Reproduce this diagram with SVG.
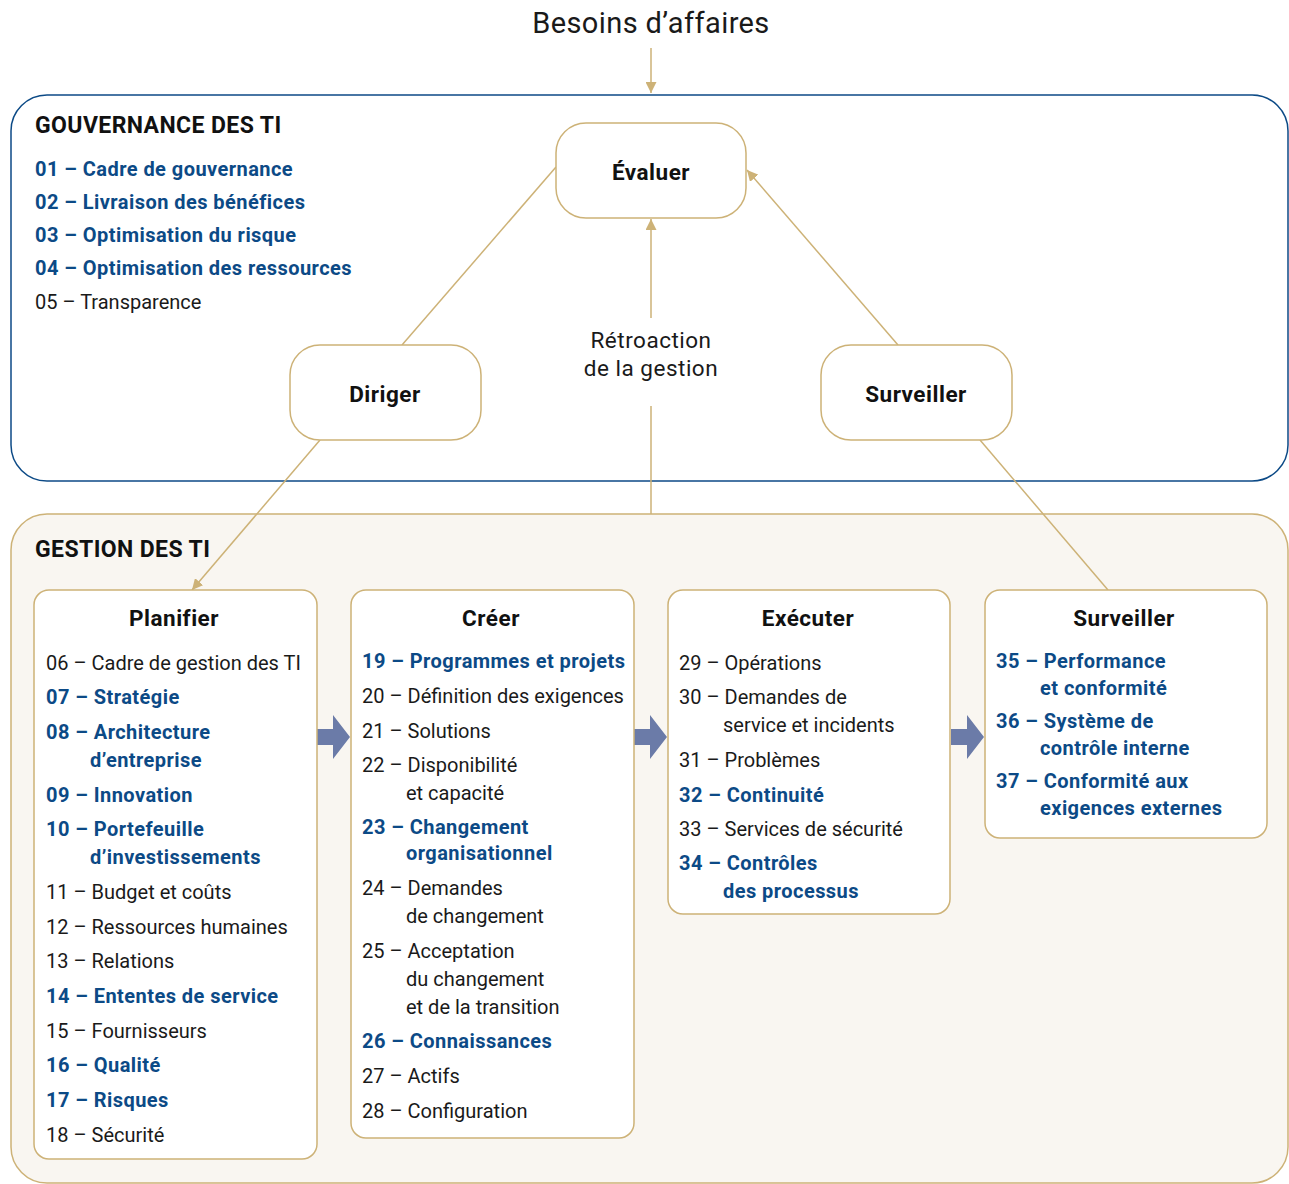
<svg xmlns="http://www.w3.org/2000/svg" width="1289" height="1184" viewBox="0 0 1289 1184">
<defs>
<style>
text{font-family:Roboto,"Liberation Sans",sans-serif;fill:#1a1a1a}
.h{font-size:23px;font-weight:bold;fill:#111;letter-spacing:0.4px}
.t{font-size:22.5px;font-weight:bold;text-anchor:middle;fill:#111;letter-spacing:0.5px}
.r{font-size:20px}
.b{font-size:20px;font-weight:bold;fill:#0c4a86;letter-spacing:0.45px}
.g{font-size:22.5px;text-anchor:middle;letter-spacing:0.5px}
.c{fill:none;stroke:#cdb277;stroke-width:1.5}
.node{fill:#fff;stroke:#cdb277;stroke-width:1.5}
.blk{fill:#6b7ba8}
</style>
<marker id="ah" viewBox="0 0 10 10" refX="10" refY="5" markerWidth="11" markerHeight="11" markerUnits="userSpaceOnUse" orient="auto">
<path d="M0,0 L10,5 L0,10 Z" fill="#cdb277"/>
</marker>
</defs>
<rect width="1289" height="1184" fill="#fff"/>
<g id="gouvernance">
<rect x="11" y="95" width="1277" height="386" rx="36" fill="#fff" stroke="#0c4a86" stroke-width="1.5"/>
<text class="h" x="35" y="133">GOUVERNANCE DES TI</text>
<text class="b" x="35" y="176">01 – Cadre de gouvernance</text>
<text class="b" x="35" y="209">02 – Livraison des bénéfices</text>
<text class="b" x="35" y="242">03 – Optimisation du risque</text>
<text class="b" x="35" y="275">04 – Optimisation des ressources</text>
<text class="r" x="35" y="309">05 – Transparence</text>
</g>
<g id="gestion">
<rect x="11" y="514" width="1277" height="669" rx="36" fill="#f9f6f1" stroke="#cdb277" stroke-width="1.5"/>
<text class="h" x="35" y="557">GESTION DES TI</text>
</g>
<text x="651" y="33" font-size="29" text-anchor="middle" letter-spacing="0.4">Besoins d’affaires</text>
<g id="connectors">
<line class="c" x1="651" y1="48" x2="651" y2="93" marker-end="url(#ah)"/>
<line class="c" x1="402" y1="345" x2="556" y2="167"/>
<line class="c" x1="898" y1="345" x2="747" y2="170" marker-end="url(#ah)"/>
<line class="c" x1="651" y1="514" x2="651" y2="406"/>
<line class="c" x1="651" y1="318" x2="651" y2="219" marker-end="url(#ah)"/>
<line class="c" x1="320" y1="440" x2="192" y2="590" marker-end="url(#ah)"/>
<line class="c" x1="980" y1="440" x2="1108" y2="590"/>
<path class="blk" d="M317,729 H333 V715 L350,737 L333,759 V745 H317 Z"/>
<path class="blk" d="M634,729 H650 V715 L667,737 L650,759 V745 H634 Z"/>
<path class="blk" d="M951,729 H967 V715 L984,737 L967,759 V745 H951 Z"/>
</g>
<text class="g" x="651" y="348">Rétroaction</text>
<text class="g" x="651" y="376">de la gestion</text>
<g id="evaluer">
<rect class="node" x="556" y="123" width="190" height="95" rx="30"/>
<text class="t" x="651" y="180">Évaluer</text>
</g>
<g id="diriger">
<rect class="node" x="290" y="345" width="191" height="95" rx="30"/>
<text class="t" x="385" y="402">Diriger</text>
</g>
<g id="surveiller-gov">
<rect class="node" x="821" y="345" width="191" height="95" rx="30"/>
<text class="t" x="916" y="402">Surveiller</text>
</g>
<g id="planifier">
<rect class="node" x="34" y="590" width="283" height="569" rx="15"/>
<text class="t" x="174" y="626">Planifier</text>
<text class="r" x="46" y="670">06 – Cadre de gestion des TI</text>
<text class="b" x="46" y="704">07 – Stratégie</text>
<text class="b" x="46" y="739">08 – Architecture</text>
<text class="b" x="90" y="767">d’entreprise</text>
<text class="b" x="46" y="802">09 – Innovation</text>
<text class="b" x="46" y="836">10 – Portefeuille</text>
<text class="b" x="90" y="864">d’investissements</text>
<text class="r" x="46" y="899">11 – Budget et coûts</text>
<text class="r" x="46" y="934">12 – Ressources humaines</text>
<text class="r" x="46" y="968">13 – Relations</text>
<text class="b" x="46" y="1003">14 – Ententes de service</text>
<text class="r" x="46" y="1038">15 – Fournisseurs</text>
<text class="b" x="46" y="1072">16 – Qualité</text>
<text class="b" x="46" y="1107">17 – Risques</text>
<text class="r" x="46" y="1142">18 – Sécurité</text>
</g>
<g id="creer">
<rect class="node" x="351" y="590" width="283" height="548" rx="15"/>
<text class="t" x="491" y="626">Créer</text>
<text class="b" x="362" y="668">19 – Programmes et projets</text>
<text class="r" x="362" y="703">20 – Définition des exigences</text>
<text class="r" x="362" y="738">21 – Solutions</text>
<text class="r" x="362" y="772">22 – Disponibilité</text>
<text class="r" x="406" y="800">et capacité</text>
<text class="b" x="362" y="834">23 – Changement</text>
<text class="b" x="406" y="860">organisationnel</text>
<text class="r" x="362" y="895">24 – Demandes</text>
<text class="r" x="406" y="923">de changement</text>
<text class="r" x="362" y="958">25 – Acceptation</text>
<text class="r" x="406" y="986">du changement</text>
<text class="r" x="406" y="1014">et de la transition</text>
<text class="b" x="362" y="1048">26 – Connaissances</text>
<text class="r" x="362" y="1083">27 – Actifs</text>
<text class="r" x="362" y="1118">28 – Configuration</text>
</g>
<g id="executer">
<rect class="node" x="668" y="590" width="282" height="324" rx="15"/>
<text class="t" x="808" y="626">Exécuter</text>
<text class="r" x="679" y="670">29 – Opérations</text>
<text class="r" x="679" y="704">30 – Demandes de</text>
<text class="r" x="723" y="732">service et incidents</text>
<text class="r" x="679" y="767">31 – Problèmes</text>
<text class="b" x="679" y="802">32 – Continuité</text>
<text class="r" x="679" y="836">33 – Services de sécurité</text>
<text class="b" x="679" y="870">34 – Contrôles</text>
<text class="b" x="723" y="898">des processus</text>
</g>
<g id="surveiller">
<rect class="node" x="985" y="590" width="282" height="248" rx="15"/>
<text class="t" x="1124" y="626">Surveiller</text>
<text class="b" x="996" y="668">35 – Performance</text>
<text class="b" x="1040" y="695">et conformité</text>
<text class="b" x="996" y="728">36 – Système de</text>
<text class="b" x="1040" y="755">contrôle interne</text>
<text class="b" x="996" y="788">37 – Conformité aux</text>
<text class="b" x="1040" y="815">exigences externes</text>
</g>
</svg>
